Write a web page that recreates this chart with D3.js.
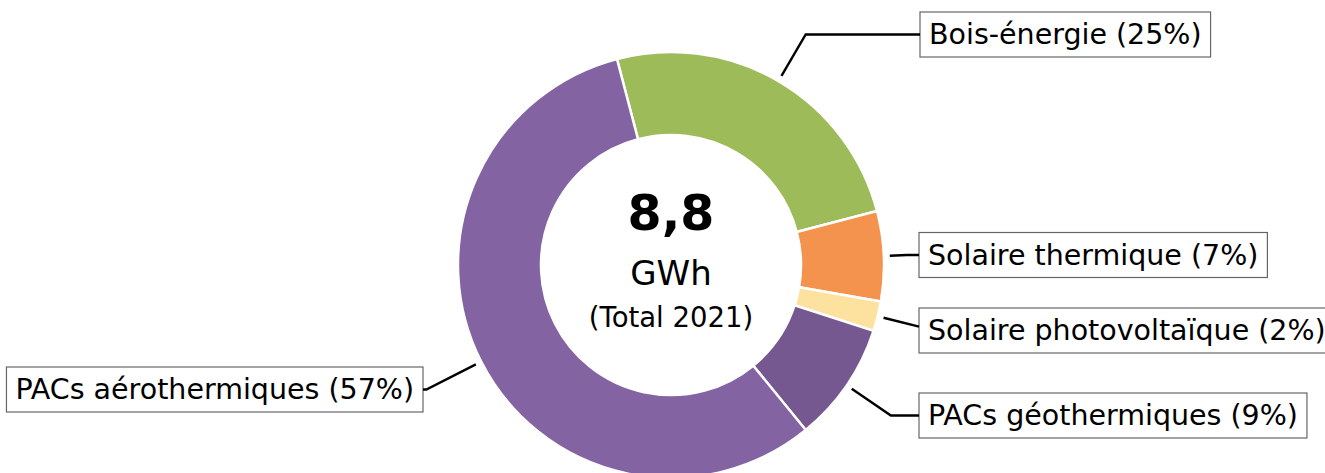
<!DOCTYPE html>
<html>
<head>
<meta charset="utf-8">
<script src="https://cdn.jsdelivr.net/npm/d3@7"></script>
<style>
  body { margin: 0; background: #fff; }
  text { font-family: 'DejaVu Sans', sans-serif; }
</style>
</head>
<body>
<div id="chart"></div>
<script>
// Data (GWh, 2021)
const categories = ['Bois-énergie', 'Solaire thermique', 'Solaire photovoltaïque', 'PACs géothermiques', 'PACs aérothermiques'];
const values = [2.2, 0.6, 0.2, 0.8, 5.0];
const colors = ['#9dbb59', '#f4934e', '#fce19f', '#765891', '#8463a3'];
const totalLabel = '8,8';
const unitLabel = 'GWh';
const subLabel = '(Total 2021)';

// label box placement: side, box edge x, box centre y
const labelPos = [
  { side: 1, x: 920, y: 34.5 },
  { side: 1, x: 919, y: 255 },
  { side: 1, x: 919, y: 330.5 },
  { side: 1, x: 919, y: 415.5 },
  { side: -1, x: 423, y: 389.5 }
];

const width = 1325;
const height = 473;
const cx = 671;
const cy = 265;
const outerR = 213;
const innerR = 130;
const lineR = 219;
const startAngle = -14.7 * Math.PI / 180;

const data = categories.map((c, i) => ({ name: c, value: values[i] }));
const total = d3.sum(values);

const svg = d3
  .select('#chart')
  .append('svg')
  .attr('width', width)
  .attr('height', height);

const g = svg.append('g').attr('transform', `translate(${cx}, ${cy})`);

const pie = d3
  .pie()
  .sort(null)
  .value((d) => d.value)
  .startAngle(startAngle)
  .endAngle(startAngle + 2 * Math.PI);

const arc = d3.arc().innerRadius(innerR).outerRadius(outerR);

const arcs = pie(data);

g.selectAll('path.slice')
  .data(arcs)
  .join('path')
  .attr('class', 'slice')
  .attr('d', arc)
  .attr('fill', (d, i) => colors[i])
  .attr('stroke', '#fff')
  .attr('stroke-width', 2.5);

// labels + leader lines
arcs.forEach((d, i) => {
  const lp = labelPos[i];
  const mid = (d.startAngle + d.endAngle) / 2;
  const dx = Math.sin(mid);
  const dy = -Math.cos(mid);
  const sx = cx + lineR * dx;
  const sy = cy + lineR * dy;
  const label = `${d.data.name} (${Math.round((d.value / total) * 100)}%)`;

  const t = svg
    .append('text')
    .attr('y', lp.y)
    .attr('dy', '0.35em')
    .attr('font-size', 28.5)
    .attr('fill', '#000')
    .text(label);
  const tw = t.node().getComputedTextLength();
  const pad = 9;
  const bw = tw + 2 * pad;
  const bh = 45;
  const bx = lp.side > 0 ? lp.x : lp.x - bw;
  t.attr('x', bx + pad);

  svg
    .insert('rect', 'text')
    .attr('x', bx)
    .attr('y', lp.y - bh / 2)
    .attr('width', bw)
    .attr('height', bh)
    .attr('fill', '#fff')
    .attr('stroke', '#666')
    .attr('stroke-width', 1.2);

  // radial segment to the label's row, then horizontal to the box
  const edgeX = lp.side > 0 ? bx : bx + bw;
  let pts;
  const tt = (lp.y - sy) / dy;
  if (tt > 0 && isFinite(tt)) {
    const ex = sx + tt * dx;
    if ((lp.side > 0 && ex > edgeX) || (lp.side < 0 && ex < edgeX)) {
      const t2 = (edgeX - sx) / dx;
      pts = [[sx, sy], [edgeX, sy + t2 * dy]];
    } else {
      pts = [[sx, sy], [ex, lp.y], [edgeX, lp.y]];
    }
  } else {
    const yy = lp.y - cy;
    const xx = cx + lp.side * Math.sqrt(lineR * lineR - yy * yy);
    pts = [[xx, lp.y], [edgeX, lp.y]];
  }
  svg
    .append('path')
    .attr('d', d3.line()(pts))
    .attr('fill', 'none')
    .attr('stroke', '#000')
    .attr('stroke-width', 2.4);
});

// centre text
g.append('text')
  .attr('text-anchor', 'middle')
  .attr('y', -35)
  .attr('font-size', 49)
  .attr('font-weight', 'bold')
  .text(totalLabel);

g.append('text')
  .attr('text-anchor', 'middle')
  .attr('y', 20)
  .attr('font-size', 34)
  .text(unitLabel);

g.append('text')
  .attr('text-anchor', 'middle')
  .attr('y', 62)
  .attr('font-size', 27.5)
  .text(subLabel);
</script>
</body>
</html>
